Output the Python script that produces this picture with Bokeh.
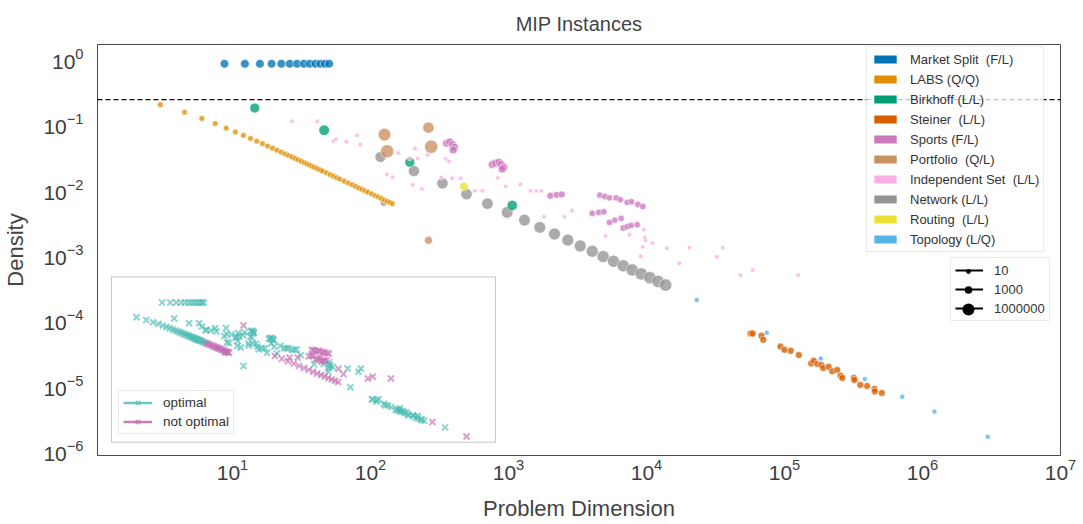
import numpy as np
import pandas as pd
from bokeh.plotting import figure
from bokeh.models import (ColumnDataSource, Range1d, LogScale, Legend, LegendItem,
                          Span, BoxAnnotation, FixedTicker)
from bokeh.embed import file_html
from bokeh.resources import INLINE

# ---------------- data ----------------
market_split_dim = [8.75, 12.3, 15.8, 19.2, 22.6, 26.0, 29.4, 32.9, 36.3, 39.9, 43.4, 46.7, 50.2]
market_split_density = [0.83, 0.83, 0.83, 0.83, 0.83, 0.83, 0.83, 0.83, 0.83, 0.83, 0.83, 0.83, 0.83]
market_split_weight = 5000
market_split_optimal = [1, 1, 1, 1, 1, 1, 1, 1, 1, 1, 1, 1, 1]

labs_dim = [3, 4.5, 6, 7.5, 9, 10.5, 12, 13.5, 15, 16.5, 18, 19.5, 21, 22.5, 24, 25.5, 27, 28.5,
            30, 31.5, 33, 34.5, 36, 37.5, 39, 40.5, 42, 43.5, 45, 48, 51, 54, 57, 60, 64.5, 69,
            73.5, 78, 82.5, 87, 91.5, 96, 102, 108, 114, 120, 126, 132, 138, 144]
labs_density = [0.196, 0.151, 0.121, 0.101, 0.086, 0.075, 0.0666, 0.0598, 0.0542, 0.0496, 0.0457,
                0.0424, 0.0395, 0.037, 0.0348, 0.0328, 0.0311, 0.0295, 0.0281, 0.0268, 0.0256,
                0.0245, 0.0235, 0.0226, 0.0217, 0.0210, 0.0202, 0.0196, 0.0189, 0.0178, 0.0167,
                0.0158, 0.0150, 0.0143, 0.0133, 0.0124, 0.0117, 0.0110, 0.0104, 0.0099, 0.0094,
                0.0090, 0.0085, 0.0080, 0.0076, 0.0072, 0.0068, 0.0065, 0.0063, 0.0060]
labs_weight = 40
labs_optimal = [1, 1, 1, 1, 1, 1, 1, 1, 1, 1, 1, 1, 1, 1, 1, 1, 1, 1, 1, 1, 1, 1, 1, 1, 1, 1, 1, 1,
                1, 1, 1, 1, 0, 0, 0, 0, 0, 0, 0, 0, 0, 0, 0, 0, 0, 0, 0, 0, 0, 0]

birkhoff_dim = [14.5, 46.2, 192.7, 1064]
birkhoff_density = [0.174, 0.0796, 0.0258, 0.00564]
birkhoff_weight = [40000, 120000, 40000, 80000]
birkhoff_optimal = [1, 1, 1, 1]

steiner_dim = [5.68e4, 5.89e4, 6.81e4, 7.01e4, 9.35e4, 1.0e5, 1.11e5, 1.27e5, 1.56e5, 1.63e5,
               1.73e5, 1.85e5, 1.91e5, 2.09e5, 2.22e5, 2.41e5, 2.55e5, 2.63e5, 3.18e5, 3.21e5,
               3.54e5, 3.97e5, 4.49e5, 4.51e5, 5.07e5]
steiner_density = [6.18e-5, 6.18e-5, 5.70e-5, 4.95e-5, 3.91e-5, 3.48e-5, 3.36e-5, 2.89e-5, 2.15e-5,
                   2.37e-5, 2.11e-5, 2.03e-5, 1.83e-5, 1.91e-5, 1.63e-5, 1.71e-5, 1.40e-5, 1.29e-5,
                   1.29e-5, 1.20e-5, 1.01e-5, 9.72e-6, 8.75e-6, 8.04e-6, 7.60e-6]
steiner_weight = 300
steiner_optimal = [1, 1, 1, 1, 1, 1, 1, 1, 1, 1, 1, 1, 1, 1, 1, 1, 1, 1, 1, 1, 1, 1, 1, 1, 1]

sports_dim = [355.6, 375.6, 392.8, 406.2, 397.3, 762, 805, 851, 885, 925, 900, 2014, 2228, 2432,
              4590, 4989, 5395, 6030, 6480, 7245, 7786, 8650, 9400, 4043, 4510, 4909, 5395, 5890,
              6561, 6776, 7245, 7745, 8570]
sports_density = [0.0504, 0.0527, 0.0481, 0.0438, 0.0398, 0.0238, 0.0249, 0.0258, 0.0238, 0.0217,
                  0.0204, 0.00791, 0.00818, 0.00830, 0.00810, 0.00774, 0.00736, 0.00736, 0.00687,
                  0.00627, 0.00640, 0.00584, 0.00545, 0.00426, 0.00441, 0.00450, 0.00310, 0.00336,
                  0.00357, 0.00254, 0.00266, 0.00279, 0.00285]
sports_weight = [1600, 1600, 1600, 1600, 1600, 1600, 1600, 1600, 1600, 1600, 1600, 300, 300, 300,
                 130, 130, 130, 130, 130, 130, 130, 130, 130, 130, 130, 130, 130, 130, 130, 130,
                 130, 130, 130]
sports_optimal = [1, 1, 1, 1, 1, 1, 1, 1, 1, 1, 1, 1, 1, 1, 0, 0, 0, 0, 0, 0, 0, 0, 0, 0, 0, 0,
                  0, 0, 0, 0, 0, 0, 0]

portfolio_dim = [126.3, 132.1, 263.2, 275.4, 263.2, 124.8]
portfolio_density = [0.0684, 0.0380, 0.0875, 0.0446, 0.00165, 0.00618]
portfolio_weight = [3.7e6, 1e7, 3.7e5, 1e7, 1600, 300]
portfolio_optimal = [1, 1, 0, 1, 1, 1]

indep_dim = [27.1, 41.1, 53.7, 56.1, 67.0, 80.1, 84.6, 159.5, 210.8, 192.7, 219.8, 260.2, 131.7,
             144.8, 202.5, 235.3, 325.3, 390.8, 449, 569.9, 645.8, 351.3, 370.5, 836.5, 955.8,
             1222, 1443, 1595, 1734, 1802, 2545, 2885, 5046, 7530, 9559, 9720, 9835, 9402, 11050,
             14030, 20490, 9078, 17260, 32310, 35720, 47990, 58930, 125700]
indep_density = [0.1092, 0.1092, 0.0546, 0.0580, 0.0531, 0.0667, 0.0481, 0.0358, 0.0418, 0.0294,
                 0.0294, 0.0336, 0.01677, 0.01525, 0.01163, 0.0101, 0.01509, 0.01472, 0.01472,
                 0.00942, 0.00942, 0.0292, 0.02658, 0.01488, 0.0110, 0.0118, 0.00942, 0.00942,
                 0.00942, 0.003777, 0.003777, 0.00473, 0.001916, 0.002006, 0.00239, 0.001817,
                 0.001647, 0.001315, 0.001498, 0.001243, 0.00127, 0.000939, 0.000734, 0.000926,
                 0.00127, 0.000481, 0.000574, 0.000481]
indep_weight = 5
indep_optimal = [1, 1, 1, 1, 1, 1, 1, 1, 1, 1, 1, 1, 1, 1, 1, 1, 1, 1, 1, 1, 1, 1, 1, 1, 1, 1, 1,
                 1, 1, 0, 0, 1, 1, 1, 1, 1, 1, 1, 1, 0, 1, 1, 0, 1, 1, 0, 0, 0]

network_dim = [118.2, 206.6, 332.5, 496.5, 704.3, 979, 1306, 1686, 2154, 2690, 3313, 4043, 4855,
               5768, 6776, 7870, 9160, 10570, 12130, 13770]
network_density = [0.0311, 0.01897, 0.01227, 0.00839, 0.00601, 0.00441, 0.00336, 0.00260, 0.00206,
                   0.00166, 0.00135, 0.00112, 9.31e-4, 7.87e-4, 6.72e-4, 5.80e-4, 5.04e-4,
                   4.41e-4, 3.87e-4, 3.40e-4]
network_weight = [2.3e5, 3e5, 3.5e5, 4e5, 5e5, 6e5, 7e5, 8e5, 9e5, 1e6, 1.1e6, 1.2e6, 1.4e6,
                  1.5e6, 1.7e6, 1.9e6, 2.1e6, 2.3e6, 2.5e6, 2.7e6]
network_optimal = [1, 1, 1, 1, 1, 0, 0, 0, 0, 0, 0, 0, 0, 0, 0, 0, 0, 0, 0, 0]

routing_dim = [474]
routing_density = [0.0110]
routing_weight = 5000
routing_optimal = [1]

topology_dim = [2.31e4, 7.45e4, 1.83e5, 3.82e5, 7.13e5, 1.22e6, 2.97e6]
topology_density = [2.02e-4, 6.34e-5, 2.56e-5, 1.24e-5, 6.67e-6, 3.94e-6, 1.62e-6]
topology_weight = 12
topology_optimal = [1, 1, 1, 1, 0, 1, 0]

density_threshold = 0.234
size_legend_values = [10, 1000, 1000000]

category_names = ["Market Split  (F/L)", "LABS (Q/Q)", "Birkhoff (L/L)", "Steiner  (L/L)",
                  "Sports (F/L)", "Portfolio  (Q/L)", "Independent Set  (L/L)", "Network (L/L)",
                  "Routing  (L/L)", "Topology (L/Q)"]
category_colors = ["#0173B2", "#DE8F05", "#029E73", "#D55E00", "#CC78BC", "#CA9161",
                   "#FBAFE4", "#949494", "#ECE133", "#56B4E9"]
series_data = [
    (market_split_dim, market_split_density, market_split_weight, market_split_optimal),
    (labs_dim, labs_density, labs_weight, labs_optimal),
    (birkhoff_dim, birkhoff_density, birkhoff_weight, birkhoff_optimal),
    (steiner_dim, steiner_density, steiner_weight, steiner_optimal),
    (sports_dim, sports_density, sports_weight, sports_optimal),
    (portfolio_dim, portfolio_density, portfolio_weight, portfolio_optimal),
    (indep_dim, indep_density, indep_weight, indep_optimal),
    (network_dim, network_density, network_weight, network_optimal),
    (routing_dim, routing_density, routing_weight, routing_optimal),
    (topology_dim, topology_density, topology_weight, topology_optimal),
]
draw_order = [7, 5, 1, 0, 2, 3, 4, 6, 8, 9]


def size_px(w):
    return 3.5 + 1.4 * np.log10(np.asarray(w, dtype=float))


frames = []
for (dim, dens, weight, opt), name in zip(series_data, category_names):
    n = len(dim)
    w = weight if isinstance(weight, list) else [weight] * n
    df = pd.DataFrame(dict(dim=dim, density=dens, weight=w, optimal=opt))
    df["sz"] = size_px(df["weight"])
    df["cat"] = name
    frames.append(df)

# ---------------- layout constants ----------------
W, H = 1083, 524
FRAME_LEFT, FRAME_RIGHT, FRAME_TOP, FRAME_BOTTOM = 97, 1060, 43, 455
FONT = "Liberation Sans"
TEXT = "#3d3d3d"
NAN = [float("nan")]   # legend-key renderers hold a single non-drawable point

p = figure(width=W, height=H, x_axis_type="log", y_axis_type="log",
           x_range=Range1d(10 ** 0.022, 10 ** 7.0), y_range=Range1d(10 ** -6.076, 10 ** 0.214),
           output_backend="svg", toolbar_location=None,
           min_border_left=FRAME_LEFT, min_border_right=W - FRAME_RIGHT,
           min_border_top=FRAME_TOP, min_border_bottom=H - FRAME_BOTTOM,
           title="MIP Instances")
p.border_fill_color = "white"
p.background_fill_color = "white"
p.outline_line_color = "#4a4a4a"
p.outline_line_width = 1
p.xgrid.grid_line_color = None
p.ygrid.grid_line_color = None

p.title.align = "center"
p.title.text_font = FONT
p.title.text_font_size = "20px"
p.title.text_font_style = "normal"
p.title.text_color = "#444444"
p.title.standoff = 20

p.xaxis.ticker = FixedTicker(ticks=[10.0 ** k for k in range(1, 8)])
p.yaxis.ticker = FixedTicker(ticks=[10.0 ** k for k in range(-6, 1)])
p.xaxis.axis_label = "Problem Dimension"
p.yaxis.axis_label = "Density"
for ax in (p.xaxis[0], p.yaxis[0]):
    ax.axis_line_color = None
    ax.major_tick_line_color = None
    ax.minor_tick_line_color = None
    ax.major_label_text_font = FONT
    ax.major_label_text_font_size = "21px"
    ax.major_label_text_color = TEXT
    ax.axis_label_text_font = FONT
    ax.axis_label_text_font_size = "22px"
    ax.axis_label_text_font_style = "normal"
    ax.axis_label_text_color = "#444444"
p.xaxis.major_label_standoff = -3
p.xaxis.axis_label_standoff = 13
p.yaxis.major_label_standoff = 8
p.yaxis.axis_label_standoff = 12

# ---------------- inset coordinate system ----------------
INSET_LEFT, INSET_RIGHT, INSET_TOP, INSET_BOTTOM = 111, 495, 276, 441.7
inset_xlog = (0.022, 7.0)
inset_ylog = (-6.038, 1.013)


def widen(lo, hi, a0, a1, span):
    k = (hi - lo) / (a1 - a0)
    return lo - a0 * k, hi + (span - a1) * k


fx0, fx1 = widen(inset_xlog[0], inset_xlog[1], INSET_LEFT - FRAME_LEFT,
                 INSET_RIGHT - FRAME_LEFT, FRAME_RIGHT - FRAME_LEFT)
fy0, fy1 = widen(inset_ylog[0], inset_ylog[1], FRAME_BOTTOM - INSET_BOTTOM,
                 FRAME_BOTTOM - INSET_TOP, FRAME_BOTTOM - FRAME_TOP)
p.extra_x_ranges = {"inset": Range1d(10 ** fx0, 10 ** fx1)}
p.extra_y_ranges = {"inset": Range1d(10 ** fy0, 10 ** fy1)}
p.extra_x_scales = {"inset": LogScale()}
p.extra_y_scales = {"inset": LogScale()}

p.add_layout(Span(location=density_threshold, dimension="width", line_color="black",
                  line_dash="5 3", line_width=1.2))

p.add_layout(BoxAnnotation(left=10 ** inset_xlog[0], right=10 ** inset_xlog[1],
                           bottom=10 ** inset_ylog[0], top=10 ** inset_ylog[1],
                           x_range_name="inset", y_range_name="inset",
                           fill_color="white", fill_alpha=1.0, line_color="#4a4a4a",
                           line_width=1, level="underlay"))

# ---------------- main scatter ----------------
for i in draw_order:
    src = ColumnDataSource(frames[i])
    p.scatter("dim", "density", size="sz", source=src, fill_color=category_colors[i],
              fill_alpha=0.78, line_color="white", line_alpha=0.9, line_width=0.6)

# ---------------- inset scatter ----------------
TEAL, PURPLE = "#4dbdb6", "#c46db2"
all_df = pd.concat(frames, ignore_index=True)
opt_df = all_df[all_df["optimal"] == 1]
nopt_df = all_df[all_df["optimal"] == 0]
r_opt = p.scatter(opt_df["dim"].tolist(), opt_df["density"].tolist(), marker="x", size=8.5,
                  line_color=TEAL, line_alpha=0.65, line_width=2,
                  x_range_name="inset", y_range_name="inset")
r_nopt = p.scatter(nopt_df["dim"].tolist(), nopt_df["density"].tolist(), marker="x", size=8.5,
                   line_color=PURPLE, line_alpha=0.65, line_width=2,
                   x_range_name="inset", y_range_name="inset")

# ---------------- main legend (colour patches) ----------------
main_items = []
for name, color in zip(category_names, category_colors):
    key = p.quad(left=NAN, right=NAN, top=NAN, bottom=NAN, fill_color=color, line_color=None)
    main_items.append(LegendItem(label=name, renderers=[key]))
main_legend = Legend(items=main_items, location=(866 - FRAME_LEFT, FRAME_BOTTOM - 252),
                     glyph_width=28, glyph_height=10, label_height=16, spacing=4, padding=4,
                     label_standoff=11, label_text_font=FONT, label_text_font_size="13px",
                     label_text_color="#333333", border_line_color="#d6d6d6",
                     background_fill_color="white", background_fill_alpha=0.75, margin=0)
p.add_layout(main_legend)

# ---------------- size legend ----------------
size_line = p.line(x=NAN, y=NAN, line_color="black", line_width=2)
size_dot = p.scatter(x=NAN, y=NAN, marker="circle", fill_color="black", line_color=None)
SL_BOX_LEFT, SL_BOX_BOTTOM, SL_PAD, SL_ROW, SL_SPACING = 950, 321, 4, 16, 3
size_legend = Legend(items=[LegendItem(label=str(v), renderers=[size_line]) for v in size_legend_values],
                     location=(SL_BOX_LEFT - FRAME_LEFT, FRAME_BOTTOM - SL_BOX_BOTTOM),
                     glyph_width=28, glyph_height=SL_ROW, label_height=SL_ROW, spacing=SL_SPACING,
                     padding=SL_PAD, label_standoff=11, label_text_font=FONT,
                     label_text_font_size="13px", label_text_color="#333333",
                     border_line_color="#d6d6d6", background_fill_color="white",
                     background_fill_alpha=1.0, margin=0)
p.add_layout(size_legend)
sl_height = 2 * SL_PAD + 3 * SL_ROW + 2 * SL_SPACING
sl_top = SL_BOX_BOTTOM - sl_height
glyph_cx = SL_BOX_LEFT + SL_PAD + 14
for k, v in enumerate(size_legend_values):
    s = float(size_px(v))
    gh = int(round(s / 0.4))
    gw = max(28, gh)
    cy = sl_top + SL_PAD + SL_ROW / 2 + k * (SL_ROW + SL_SPACING)
    ov = Legend(items=[LegendItem(label="", renderers=[size_dot])],
                location=(int(round(glyph_cx - gw / 2 - FRAME_LEFT)),
                          int(round(FRAME_BOTTOM - cy - gh / 2))),
                glyph_width=gw, glyph_height=gh, label_height=gh, label_width=0,
                label_standoff=0, spacing=0, padding=0, margin=0,
                label_text_font_size="1px", border_line_color=None,
                background_fill_alpha=0.0)
    p.add_layout(ov)

# ---------------- inset legend ----------------
teal_line = p.line(x=NAN, y=NAN, line_color="#6cc8c3", line_width=2.5)
purple_line = p.line(x=NAN, y=NAN, line_color="#c97dbb", line_width=2.5)
inset_legend = Legend(items=[LegendItem(label="optimal", renderers=[teal_line, r_opt]),
                             LegendItem(label="not optimal", renderers=[purple_line, r_nopt])],
                      location=(118 - FRAME_LEFT, FRAME_BOTTOM - 434),
                      glyph_width=29, glyph_height=15, label_height=15, spacing=4, padding=4,
                      label_standoff=11, label_text_font=FONT, label_text_font_size="13.5px",
                      label_text_color="#333333", border_line_color="#d6d6d6",
                      background_fill_color="white", background_fill_alpha=0.85, margin=0)
p.add_layout(inset_legend)

open("out.html", "w").write(file_html(p, INLINE))
